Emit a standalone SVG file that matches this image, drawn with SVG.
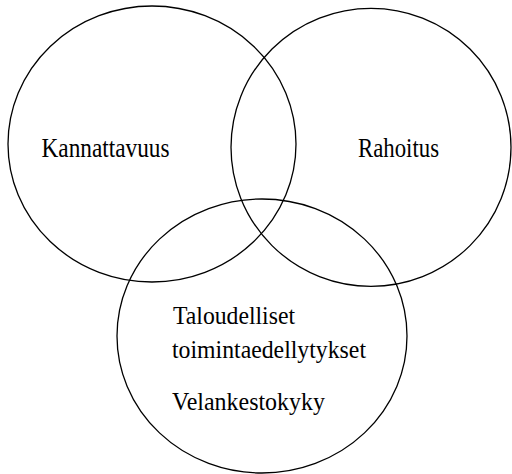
<svg xmlns="http://www.w3.org/2000/svg" width="512" height="474" viewBox="0 0 512 474">
<style>
.c{fill:none;stroke:#000;stroke-width:1.3}
.a{font-family:'Liberation Serif','Times New Roman',serif;font-size:27px;fill:#000}
.b{font-family:'Liberation Serif','Times New Roman',serif;font-size:26px;fill:#000}
</style>
<rect width="512" height="474" fill="#fff"/>
<g id="kannattavuus">
<ellipse class="c" cx="152" cy="144" rx="144" ry="138"/>
<text class="a" x="41.5" y="156.5" textLength="128" lengthAdjust="spacingAndGlyphs">Kannattavuus</text>
</g>
<g id="rahoitus">
<ellipse class="c" cx="371" cy="147.3" rx="140" ry="139"/>
<text class="a" x="358" y="156.5" textLength="81" lengthAdjust="spacingAndGlyphs">Rahoitus</text>
</g>
<g id="taloudelliset">
<ellipse class="c" cx="262" cy="336" rx="145" ry="137"/>
<text class="b" x="173" y="323.5" textLength="122" lengthAdjust="spacingAndGlyphs">Taloudelliset</text>
<text class="b" x="172" y="358" textLength="194" lengthAdjust="spacingAndGlyphs">toimintaedellytykset</text>
<text class="b" x="172" y="410" textLength="153" lengthAdjust="spacingAndGlyphs">Velankestokyky</text>
</g>
<g id="connectors"/>
</svg>
